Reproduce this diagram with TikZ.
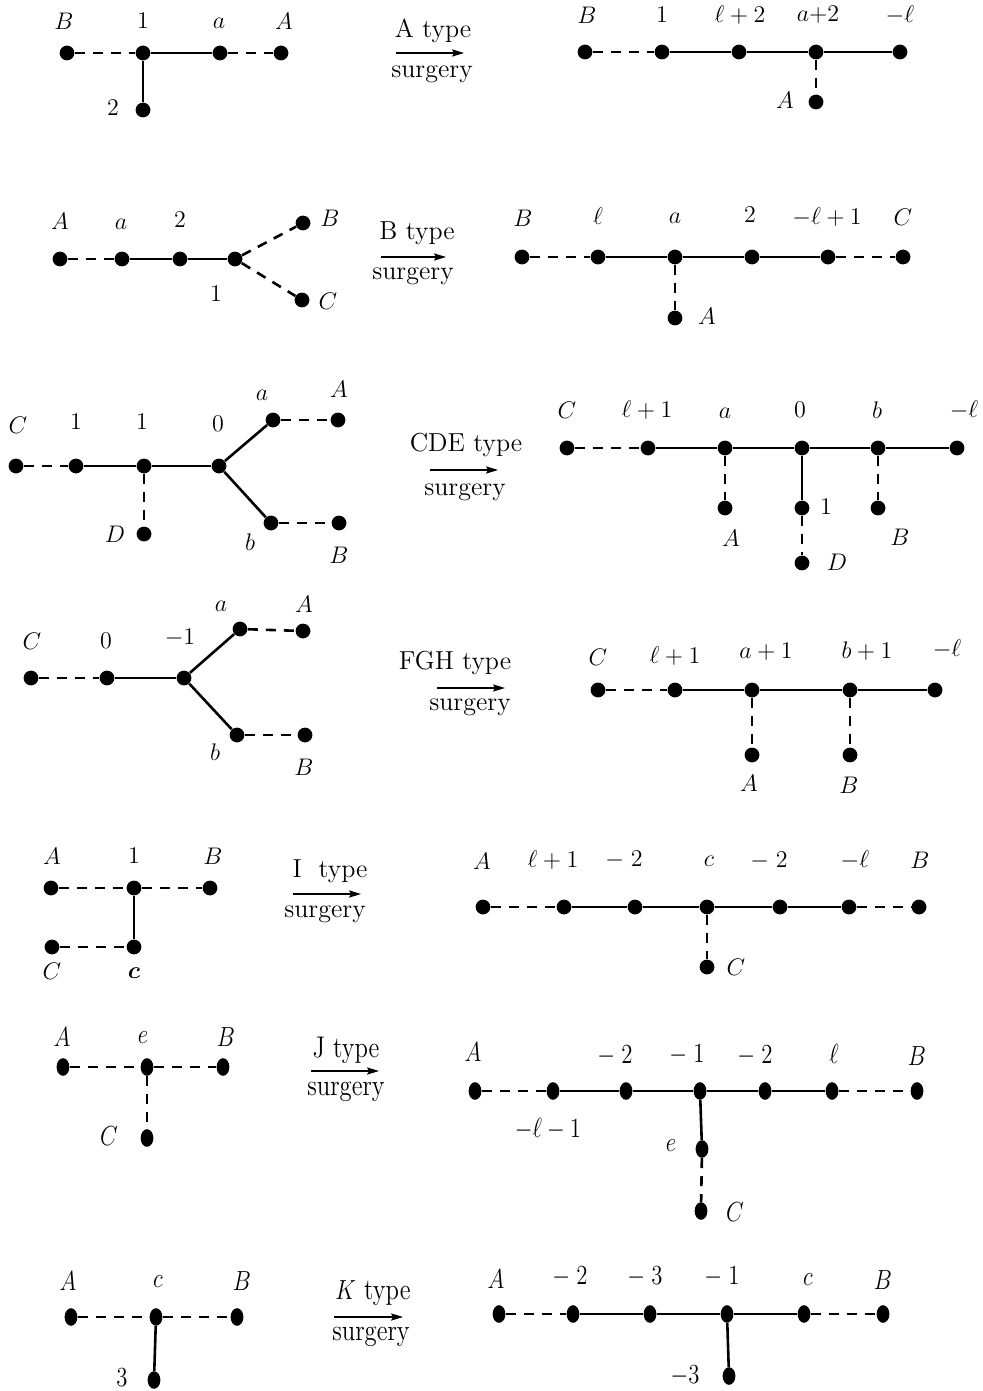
\documentclass[tikz,border=0pt]{standalone}
\usepackage{bm}
\usetikzlibrary{arrows.meta,shapes.geometric}
\tikzset{
 dot/.style={circle,fill=black,draw=none,inner sep=0pt,minimum size=7.4pt},
 edot/.style={ellipse,fill=black,draw=none,inner sep=0pt,minimum width=6.4pt,minimum height=8.8pt},
 lbl/.style={inner sep=0pt,font=\fontsize{13}{15}\selectfont},
 sol/.style={line width=1.3pt},
 dsh/.style={line width=1.3pt,dash pattern=on 5pt off 4pt},
 surg/.style={line width=0.6pt,-{Stealth[length=6pt,width=3.6pt,inset=1pt]}}
}
\newcommand\D[2]{\node[dot] (#1) at (#2) {};}
\newcommand\E[2]{\node[edot] (#1) at (#2) {};}
\newcommand\T[3]{\node[lbl] (#1) at (#2) {#3};}
\newcommand\TT[3]{\node[lbl] (#1) at (#2) {\scalebox{0.95}[1.15]{#3}};}
\begin{document}
\begin{tikzpicture}[x=0.5pt,y=-0.5pt]
\useasboundingbox (0,0) rectangle (982,1391);
% ---------------- Row A ----------------
\D{aB}{67,53} \D{a1}{143,53} \D{aa}{220,53} \D{aA}{281,53} \D{a2}{143,110}
\T{taB}{64,21}{$B$} \T{ta1}{143,21}{$1$} \T{taa}{219,23}{$a$} \T{taA}{284,21}{$A$} \T{ta2}{113,108}{$2$}
\draw[dsh] (aB)--(a1); \draw[sol] (a1)--(aa); \draw[dsh] (aa)--(aA); \draw[sol] (a1)--(a2);
\coordinate (as) at (396,53); \coordinate (ae) at (464,53); \draw[surg] (as)--(ae);
\T{tat}{433,31}{A type} \T{tas}{432,74}{surgery}
\D{AB}{585,52} \D{A1}{662,52} \D{Al}{739,52} \D{Aa}{816,52} \D{Am}{900,52} \D{AA}{816,102}
\T{tAB}{587,15}{$B$} \T{tA1}{662,15}{$1$} \T{tAl}{740,15}{$\ell+2$} \T{tAa}{818,15}{$a{+}2$} \T{tAm}{900,15}{$-\ell$} \T{tAA}{785,100}{$A$}
\draw[dsh] (AB)--(A1); \draw[sol] (A1)--(Al); \draw[sol] (Al)--(Aa); \draw[sol] (Aa)--(Am); \draw[dsh] (Aa)--(AA);
% ---------------- Row B ----------------
\D{bA}{60,259} \D{ba}{122,259} \D{b2}{180,259} \D{b1}{235,259} \D{bB}{303,223} \D{bC}{302,300}
\T{tbA}{60,221}{$A$} \T{tba}{121,224}{$a$} \T{tb2}{180,220}{$2$} \T{tb1}{216,294}{$1$} \T{tbB}{330,218}{$B$} \T{tbC}{328,301}{$C$}
\draw[dsh] (bA)--(ba); \draw[sol] (ba)--(b2); \draw[sol] (b2)--(b1); \draw[dsh] (b1)--(bB); \draw[dsh] (b1)--(bC);
\coordinate (bs) at (381,257); \coordinate (be) at (446,257); \draw[surg] (bs)--(be);
\T{tbt}{417,233}{B type} \T{tbs}{413,276}{surgery}
\D{BB}{522,257} \D{Bl}{598,257} \D{Ba}{675,257} \D{B2}{752,257} \D{Bm}{828,257} \D{BC}{903,257} \D{BA}{675,318}
\T{tBB}{523,218}{$B$} \T{tBl}{598,216}{$\ell$} \T{tBa}{675,218}{$a$} \T{tB2}{750,215}{$2$} \T{tBm}{827,217}{$-\ell+1$} \T{tBC}{903,217}{$C$} \T{tBA}{707,316}{$A$}
\draw[dsh] (BB)--(Bl); \draw[sol] (Bl)--(Ba); \draw[sol] (Ba)--(B2); \draw[sol] (B2)--(Bm); \draw[dsh] (Bm)--(BC); \draw[dsh] (Ba)--(BA);
% ---------------- Row CDE ----------------
\D{cC}{16,466} \D{c1}{76,466} \D{c1b}{144,466} \D{c0}{219,466} \D{ca}{273,420} \D{cA}{338,420} \D{cb}{271,523} \D{cB}{339,523} \D{cD}{144,534}
\T{tcC}{18,425}{$C$} \T{tc1}{76,422}{$1$} \T{tc1b}{142,422}{$1$} \T{tc0}{218,424}{$0$} \T{tca}{262,395}{$a$} \T{tcA}{339,389}{$A$} \T{tcb}{250,542}{$b$} \T{tcB}{339,555}{$B$} \T{tcD}{115,534}{$D$}
\draw[dsh] (cC)--(c1); \draw[sol] (c1)--(c1b); \draw[sol] (c1b)--(c0); \draw[sol] (c0)--(ca); \draw[sol] (c0)--(cb);
\draw[dsh] (ca)--(cA); \draw[dsh] (cb)--(cB); \draw[dsh] (c1b)--(cD);
\coordinate (cs) at (430,470); \coordinate (ce) at (498,470); \draw[surg] (cs)--(ce);
\T{tct}{466,445}{CDE type} \T{tcs}{465,492}{surgery}
\D{CC}{567,448} \D{Cl}{648,448} \D{Ca}{725,448} \D{C0}{802,448} \D{Cb}{878,448} \D{Cm}{957,448} \D{CA}{725,508} \D{C1}{802,508} \D{CB}{878,508} \D{CD}{802,563}
\T{tCC}{567,410}{$C$} \T{tCl}{647,410}{$\ell+1$} \T{tCa}{725,413}{$a$} \T{tC0}{800,410}{$0$} \T{tCb}{877,410}{$b$} \T{tCm}{964,410}{$-\ell$}
\T{tCA}{731,538}{$A$} \T{tC1}{826,507}{$1$} \T{tCB}{900,537}{$B$} \T{tCD}{837,562}{$D$}
\draw[dsh] (CC)--(Cl); \draw[sol] (Cl)--(Ca); \draw[sol] (Ca)--(C0); \draw[sol] (C0)--(Cb); \draw[sol] (Cb)--(Cm);
\draw[dsh] (Ca)--(CA); \draw[sol] (C0)--(C1); \draw[dsh] (C1)--(CD); \draw[dsh] (Cb)--(CB);
% ---------------- Row FGH ----------------
\D{fC}{31,678} \D{f0}{107,678} \D{fm}{184,678} \D{fa}{240,629} \D{fA}{303,631} \D{fb}{237,735} \D{fB}{305,735}
\T{tfC}{32,641}{$C$} \T{tf0}{106,641}{$0$} \T{tfm}{180,638}{$-1$} \T{tfa}{221,606}{$a$} \T{tfA}{304,604}{$A$} \T{tfb}{215,752}{$b$} \T{tfB}{304,767}{$B$}
\draw[dsh] (fC)--(f0); \draw[sol] (f0)--(fm); \draw[sol] (fm)--(fa); \draw[sol] (fm)--(fb); \draw[dsh] (fa)--(fA); \draw[dsh] (fb)--(fB);
\coordinate (fs) at (437,688); \coordinate (fe) at (505,688); \draw[surg] (fs)--(fe);
\T{tft}{455,663}{FGH type} \T{tfs}{470,707}{surgery}
\D{FC}{598,690} \D{Fl}{675,690} \D{Fa}{752,690} \D{Fb}{850,690} \D{Fm}{935,690} \D{FA}{752,755} \D{FB}{850,755}
\T{tFC}{598,657}{$C$} \T{tFl}{675,656}{$\ell+1$} \T{tFa}{766,652}{$a+1$} \T{tFb}{867,651}{$b+1$} \T{tFm}{947,649}{$-\ell$} \T{tFA}{749,783}{$A$} \T{tFB}{849,785}{$B$}
\draw[dsh] (FC)--(Fl); \draw[sol] (Fl)--(Fa); \draw[sol] (Fa)--(Fb); \draw[sol] (Fb)--(Fm); \draw[dsh] (Fa)--(FA); \draw[dsh] (Fb)--(FB);
% ---------------- Row I ----------------
\D{iA}{51,888} \D{i1}{134,888} \D{iB}{210,888} \D{iC}{52,947} \D{ic}{134,947}
\T{tiA}{52,856}{$A$} \T{ti1}{134,856}{$1$} \T{tiB}{213,856}{$B$} \T{tiC}{52,971}{$C$} \T{tic}{134,973}{$\bm{c}$}
\draw[dsh] (iA)--(i1); \draw[dsh] (i1)--(iB); \draw[sol] (i1)--(ic); \draw[dsh] (iC)--(ic);
\coordinate (is) at (293,894); \coordinate (ie) at (361,894); \draw[surg] (is)--(ie);
\T{tit}{330,871}{I\ \ type} \T{tis}{325,914}{surgery}
\D{IA}{483,907} \D{Il}{564,907} \D{I2}{635,907} \D{Ic}{707,907} \D{I2b}{780,907} \D{Im}{849,907} \D{IB}{919,907} \D{IC}{707,967}
\T{tIA}{482,861}{$A$} \T{tIl}{553,860}{$\ell+1$} \T{tI2}{624,860}{$-\;2$} \T{tIc}{709,861}{$c$} \T{tI2b}{769,861}{$-\;2$} \T{tIm}{855,860}{$-\ell$} \T{tIB}{920,860}{$B$} \T{tIC}{736,967}{$C$}
\draw[dsh] (IA)--(Il); \draw[sol] (Il)--(I2); \draw[sol] (I2)--(Ic); \draw[sol] (Ic)--(I2b); \draw[sol] (I2b)--(Im); \draw[dsh] (Im)--(IB); \draw[dsh] (Ic)--(IC);
% ---------------- Row J ----------------
\E{jA}{63,1067} \E{je}{147,1067} \E{jB}{223,1067} \E{jC}{147,1138}
\TT{tjA}{62,1037}{$A$} \TT{tje}{143,1038}{$e$} \TT{tjB}{226,1037}{$B$} \TT{tjC}{109,1136}{$C$}
\draw[dsh] (jA)--(je); \draw[dsh] (je)--(jB); \draw[dsh] (je)--(jC);
\coordinate (js) at (311,1071); \coordinate (je2) at (379,1071); \draw[surg] (js)--(je2);
\TT{tjt}{346,1050}{J type} \TT{tjs}{346,1092}{surgery}
\E{JA}{475,1091} \E{Jm}{553,1091} \E{J2}{626,1091} \E{J1}{700,1091} \E{J2b}{765,1091} \E{Jl}{832,1091} \E{JB}{917,1091} \E{Je}{702,1149} \E{JC}{701,1211}
\TT{tJA}{473,1052}{$A$} \TT{tJ2}{615,1056}{$-\;2$} \TT{tJ1}{687,1055}{$-\;1$} \TT{tJ2b}{755,1056}{$-\;2$} \TT{tJl}{834,1054}{$\ell$} \TT{tJB}{917,1056}{$B$}
\TT{tJm}{548,1129}{$-\ell-1$} \TT{tJe}{671,1146}{$e$} \TT{tJC}{735,1212}{$C$}
\draw[dsh] (JA)--(Jm); \draw[sol] (Jm)--(J2); \draw[sol] (J2)--(J1); \draw[sol] (J1)--(J2b); \draw[sol] (J2b)--(Jl); \draw[dsh] (Jl)--(JB);
\draw[sol] (J1)--(Je); \draw[dsh] (Je)--(JC);
% ---------------- Row K ----------------
\E{kA}{71,1317} \E{kc}{156,1317} \E{kB}{237,1317} \E{k3}{154,1380}
\TT{tkA}{68,1281}{$A$} \TT{tkc}{158,1282}{$c$} \TT{tkB}{242,1281}{$B$} \TT{tk3}{122,1378}{$3$}
\draw[dsh] (kA)--(kc); \draw[dsh] (kc)--(kB); \draw[sol] (kc)--(k3);
\coordinate (ks) at (334,1317); \coordinate (ke) at (403,1317); \draw[surg] (ks)--(ke);
\TT{tkt}{373,1293}{$K$ type} \TT{tks}{371,1337}{surgery}
\E{KA}{499,1314} \E{K2}{573,1314} \E{K3}{650,1314} \E{K1}{727,1314} \E{Kc}{804,1314} \E{KB}{883,1314} \E{Km}{729,1376}
\TT{tKA}{496,1279}{$A$} \TT{tK2}{570,1277}{$-\;2$} \TT{tK3}{645,1277}{$-\;3$} \TT{tK1}{722,1277}{$-\;1$} \TT{tKc}{808,1280}{$c$} \TT{tKB}{883,1280}{$B$} \TT{tKm}{685,1376}{$-3$}
\draw[dsh] (KA)--(K2); \draw[sol] (K2)--(K3); \draw[sol] (K3)--(K1); \draw[sol] (K1)--(Kc); \draw[dsh] (Kc)--(KB); \draw[sol] (K1)--(Km);
\end{tikzpicture}
\end{document}
